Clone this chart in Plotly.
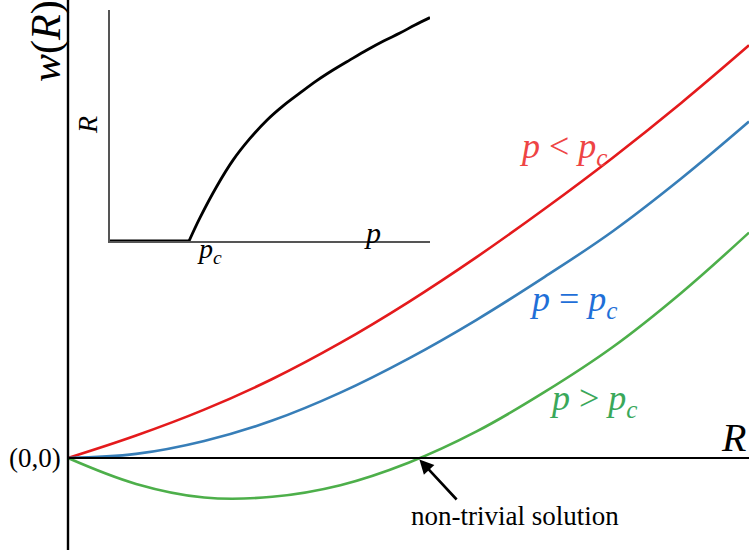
import plotly.graph_objects as go

# Main panel: w(R) curves
R = [0, 1, 2, 3, 4, 5, 6, 7, 8, 9, 10]
w_below = [0, 0.33, 0.71, 1.16, 1.69, 2.29, 2.95, 3.66, 4.41, 5.21, 6.06]    # p < pc
w_crit = [0, 0.06, 0.25, 0.55, 0.96, 1.46, 2.03, 2.66, 3.33, 4.10, 4.94]     # p = pc
w_above = [0, -0.38, -0.58, -0.57, -0.40, -0.07, 0.39, 0.97, 1.63, 2.42, 3.31]  # p > pc
R_root = 5.14

# Inset: R vs p
p_c = 0.247
p_flat = [0.0, p_c]
R_flat = [0.0, 0.0]
p_in = [0.247, 0.281, 0.333, 0.385, 0.4375, 0.491, 0.54, 0.594, 0.645, 0.697, 0.75, 0.803, 0.855, 0.906, 0.953, 1.0]
R_in = [0.0, 0.100, 0.235, 0.351, 0.444, 0.524, 0.584, 0.641, 0.693, 0.740, 0.784, 0.827, 0.866, 0.900, 0.935, 0.967]

RED, BLUE, GREEN = "#e41a1c", "#377eb8", "#4daf4a"
SERIF = "Liberation Serif"

W, H = 749, 558
OX, OY = 68, 458          # origin in pixels
S = 68.1                  # pixels per unit

def px(x):
    return x / W

def py(y):
    return (H - y) / H

fig = go.Figure()
for ys, c in [(w_below, RED), (w_crit, BLUE), (w_above, GREEN)]:
    fig.add_trace(go.Scatter(x=R, y=ys, mode="lines",
                             line=dict(color=c, width=2.6, shape="spline", smoothing=1.1),
                             xaxis="x", yaxis="y"))
fig.add_trace(go.Scatter(x=p_flat, y=R_flat, mode="lines", line=dict(color="black", width=2.8),
                         xaxis="x2", yaxis="y2"))
fig.add_trace(go.Scatter(x=p_in, y=R_in, mode="lines", line=dict(color="black", width=2.8, shape="spline", smoothing=1.0),
                         xaxis="x2", yaxis="y2"))

# main axis lines
fig.add_shape(type="line", xref="x", yref="y", x0=0, x1=(W - OX) / S, y0=0, y1=0, line=dict(color="black", width=2.2))
fig.add_shape(type="line", xref="x", yref="y", x0=0, x1=0, y0=-1.35, y1=OY / S, line=dict(color="black", width=2.4))

def lab(x, y, text, size, color="black", angle=0):
    return dict(x=px(x), y=py(y), xref="paper", yref="paper", text=text, textangle=angle, showarrow=False,
                xanchor="center", yanchor="middle", font=dict(family=SERIF, size=size, color=color))

ann = [
    lab(47, 41, "<i>w</i>(<i>R</i>)", 42, angle=-90),
    lab(733, 437, "<i>R</i>", 40),
    dict(x=-0.08, y=0, xref="x", yref="y", text="(0,0)", showarrow=False, xanchor="right", yanchor="middle",
         font=dict(family=SERIF, size=27, color="black")),
    dict(x=R_root, y=0, xref="x", yref="y", ax=40, ay=43, text="", showarrow=True, arrowhead=2,
         arrowsize=1.1, arrowwidth=2.6, arrowcolor="black", standoff=2),
    lab(515, 516, "non-trivial solution", 27),
    dict(x=7.28, y=4.55, xref="x", yref="y", text="<i>p</i> &lt; <i>p</i><sub><i>c</i></sub>", showarrow=False,
         font=dict(family=SERIF, size=36, color="#ee4444")),
    dict(x=7.42, y=2.3, xref="x", yref="y", text="<i>p</i> = <i>p</i><sub><i>c</i></sub>", showarrow=False,
         font=dict(family=SERIF, size=36, color="#1f6fd8")),
    dict(x=7.72, y=0.84, xref="x", yref="y", text="<i>p</i> &gt; <i>p</i><sub><i>c</i></sub>", showarrow=False,
         font=dict(family=SERIF, size=36, color="#3aa85a")),
    # inset labels
    lab(88, 125, "<i>R</i>", 28, angle=-90),
    lab(372, 232, "<i>p</i>", 30),
    lab(210, 250, "<i>p</i><sub><i>c</i></sub>", 28),
]

fig.update_layout(
    width=W, height=H, margin=dict(l=0, r=0, t=0, b=0),
    paper_bgcolor="white", plot_bgcolor="white", showlegend=False,
    xaxis=dict(domain=[0, 1], range=[-OX / S, (W - OX) / S], visible=False),
    yaxis=dict(domain=[0, 1], range=[-(H - OY) / S, OY / S], visible=False),
    xaxis2=dict(domain=[px(110), px(430)], range=[0, 1], anchor="y2", showline=True, linecolor="#555",
                linewidth=1.5, showticklabels=False, ticks="", showgrid=False, zeroline=False),
    yaxis2=dict(domain=[py(241), py(10)], range=[0, 1], anchor="x2", showline=True, linecolor="#555",
                linewidth=1.5, showticklabels=False, ticks="", showgrid=False, zeroline=False),
    annotations=ann,
)
fig.write_html("out.html", config={"displayModeBar": False},
               post_script="document.body.style.margin='0';document.body.style.overflow='hidden';")
